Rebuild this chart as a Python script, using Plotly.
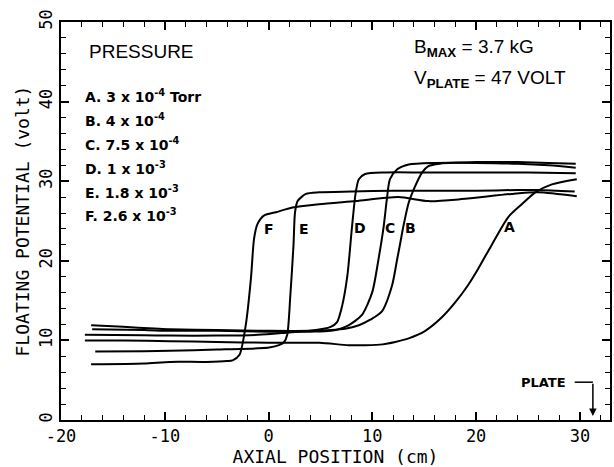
import plotly.graph_objects as go

# Axial floating-potential profiles for six neutral pressures
A_x = [-17.7, -14.0, -9.5, -5.0, 0.0, 4.9, 7.7, 9.3, 11.0, 12.2, 13.5, 15.1, 16.7, 18.0, 19.2, 20.2, 21.5, 23.1, 24.4, 25.7, 27.3, 29.7]
A_y = [10.0, 10.0, 9.9, 9.8, 9.7, 9.7, 9.4, 9.4, 9.5, 9.8, 10.25, 11.2, 12.9, 14.8, 16.9, 19.0, 22.0, 25.5, 27.1, 28.6, 29.6, 30.25]

B_x = [-17.1, -14.0, -11.0, -9.5, -5.0, 0.0, 4.0, 6.0, 7.5, 8.7, 9.8, 10.9, 11.9, 12.4, 12.7, 13.0, 13.5, 14.0, 14.8, 15.4, 16.5, 20.0, 24.0, 27.0, 29.6]
B_y = [11.9, 11.7, 11.5, 11.4, 11.3, 11.2, 11.2, 11.3, 11.5, 11.9, 12.6, 13.6, 16.9, 20.25, 22.3, 24.4, 27.3, 29.0, 31.1, 31.9, 32.2, 32.4, 32.4, 32.3, 32.2]

C_x = [-17.0, -12.0, -9.5, -5.0, 0.0, 4.0, 6.0, 7.7, 9.0, 10.0, 10.6, 11.1, 11.4, 11.7, 12.4, 13.5, 16.0, 20.0, 24.0, 27.0, 29.6]
C_y = [11.4, 11.3, 11.2, 11.2, 11.1, 11.1, 11.2, 11.9, 13.2, 16.1, 20.25, 24.4, 27.75, 30.25, 31.5, 32.1, 32.3, 32.3, 32.2, 32.0, 31.7]

D_x = [-17.7, -12.0, -9.5, -5.0, -1.0, 2.0, 4.0, 5.98, 6.6, 7.1, 7.6, 8.05, 8.4, 8.7, 9.3, 11.3, 15.0, 20.0, 25.0, 29.6]
D_y = [10.7, 10.65, 10.6, 10.6, 10.7, 11.0, 11.2, 11.7, 12.3, 14.4, 18.2, 24.4, 28.6, 30.25, 30.9, 31.1, 31.1, 31.1, 31.1, 31.0]

E_x = [-16.7, -12.0, -9.5, -5.0, -1.0, 0.06, 1.0, 1.5, 1.8, 2.1, 2.4, 2.55, 2.8, 3.6, 4.86, 8.0, 12.0, 16.0, 20.0, 24.0, 26.0, 29.5]
E_y = [8.6, 8.65, 8.7, 8.85, 9.0, 9.1, 9.4, 9.8, 10.7, 15.7, 21.9, 26.1, 27.5, 28.4, 28.6, 28.7, 28.8, 28.8, 28.8, 28.9, 28.9, 28.7]

F_x = [-17.1, -12.0, -9.5, -6.0, -4.0, -3.46, -2.8, -2.2, -1.7, -1.4, -1.07, -0.42, 0.7, 2.3, 4.86, 8.4, 12.5, 15.4, 18.6, 23.4, 26.0, 29.7]
F_y = [7.0, 7.1, 7.3, 7.3, 7.4, 7.5, 8.2, 11.9, 17.75, 22.75, 24.6, 25.7, 26.1, 26.7, 27.1, 27.5, 28.0, 27.5, 27.75, 28.4, 28.6, 28.1]

curves = {"A": (A_x, A_y), "B": (B_x, B_y), "C": (C_x, C_y),
          "D": (D_x, D_y), "E": (E_x, E_y), "F": (F_x, F_y)}

# Curve tag positions (x, y) in axis units
tag_pos = {"F": (0.0, 24.0), "E": (3.4, 24.0), "D": (8.8, 24.1),
           "C": (11.7, 24.1), "B": (13.65, 24.1), "A": (23.2, 24.2)}

pressure_lines = [
    "A. 3 x 10<sup>-4</sup> Torr",
    "B. 4 x 10<sup>-4</sup>",
    "C. 7.5 x 10<sup>-4</sup>",
    "D. 1 x 10<sup>-3</sup>",
    "E. 1.8 x 10<sup>-3</sup>",
    "F. 2.6 x 10<sup>-3</sup>",
]

x_ticks = [-20, -10, 0, 10, 20, 30]
y_ticks = [0, 10, 20, 30, 40, 50]

fig = go.Figure()
for name, (xs, ys) in curves.items():
    fig.add_trace(go.Scatter(x=xs, y=ys, mode="lines", name=name,
                             line=dict(color="black", width=2, shape="spline", smoothing=0.7),
                             showlegend=False, hoverinfo="skip"))

mono = "DejaVu Sans Mono"
sans = "Liberation Sans"
bold = "DejaVu Sans"

annotations = []
annotations.append(dict(x=-17.5, y=46.3, xref="x", yref="y", text="PRESSURE",
                        showarrow=False, xanchor="left", yanchor="middle",
                        font=dict(family=sans, size=19, color="black")))
for i, t in enumerate(pressure_lines):
    annotations.append(dict(x=-17.9, y=40.7 - 3.0 * i, xref="x", yref="y", text=t,
                            showarrow=False, xanchor="left", yanchor="middle",
                            font=dict(family=bold, size=14, color="black", weight="bold")))
annotations.append(dict(x=13.8, y=46.7, xref="x", yref="y",
                        text="B<sub><b>MAX</b></sub> = 3.7 kG",
                        showarrow=False, xanchor="left", yanchor="middle",
                        font=dict(family=sans, size=19, color="black")))
annotations.append(dict(x=13.8, y=42.8, xref="x", yref="y",
                        text="V<sub><b>PLATE</b></sub> = 47 VOLT",
                        showarrow=False, xanchor="left", yanchor="middle",
                        font=dict(family=sans, size=19, color="black")))
for name, (tx, ty) in tag_pos.items():
    annotations.append(dict(x=tx, y=ty, xref="x", yref="y", text=name,
                            showarrow=False, xanchor="center", yanchor="middle",
                            font=dict(family=bold, size=14, color="black", weight="bold")))

# PLATE marker: label, short leader and downward arrow
plate_x = 31.25
plate_y = 4.75
annotations.append(dict(x=26.5, y=plate_y, xref="x", yref="y", text="PLATE",
                        showarrow=False, xanchor="center", yanchor="middle",
                        font=dict(family=bold, size=13, color="black", weight="bold")))
annotations.append(dict(x=plate_x, y=0.5, xref="x", yref="y", ax=plate_x, ay=plate_y,
                        axref="x", ayref="y", text="", showarrow=True,
                        arrowhead=2, arrowsize=1, arrowwidth=1.5, arrowcolor="black"))
fig.add_shape(type="line", x0=29.5, x1=plate_x, y0=plate_y, y1=plate_y,
              xref="x", yref="y", line=dict(color="black", width=1.5))

fig.update_layout(
    width=614, height=467,
    margin=dict(l=61, r=2, t=22, b=45),
    paper_bgcolor="white", plot_bgcolor="white",
    annotations=annotations,
    font=dict(family=mono, size=17, color="black"),
)
fig.update_xaxes(
    range=[-20, 32.9], tickvals=x_ticks, ticktext=[str(v) if v >= 0 else "-" + str(-v) for v in x_ticks],
    ticks="inside", ticklen=8, tickwidth=1.5, tickcolor="black",
    minor=dict(dtick=2, ticks="inside", ticklen=5, tickwidth=1.2, tickcolor="black"),
    showline=True, linewidth=2, linecolor="black", mirror="ticks",
    showgrid=False, zeroline=False,
    tickfont=dict(family=mono, size=17, color="black"),
    title=dict(text="AXIAL POSITION (cm)", font=dict(family=mono, size=18, color="black"), standoff=6),
)
fig.update_yaxes(
    range=[0, 50], tickvals=y_ticks, ticktext=[str(v) for v in y_ticks],
    ticks="inside", ticklen=8, tickwidth=1.5, tickcolor="black",
    minor=dict(dtick=2, ticks="inside", ticklen=5, tickwidth=1.2, tickcolor="black"),
    showline=True, linewidth=2, linecolor="black", mirror="ticks",
    showgrid=False, zeroline=False, tickangle=-90,
    tickfont=dict(family=mono, size=17, color="black"),
    title=dict(text="FLOATING POTENTIAL (volt)", font=dict(family=mono, size=18, color="black"), standoff=2),
)

fig.write_html("out.html")
